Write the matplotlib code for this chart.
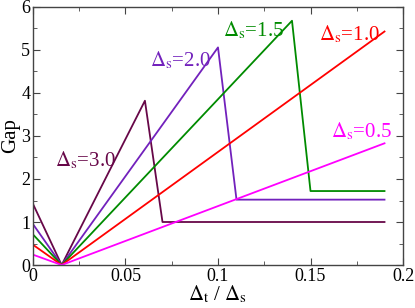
import matplotlib
matplotlib.use("Agg")
import matplotlib.pyplot as plt
from matplotlib.ticker import MultipleLocator

plt.rcParams["font.family"] = ["Liberation Serif", "DejaVu Serif"]
plt.rcParams["mathtext.fontset"] = "stix"

# data (x = Delta_t / Delta_s, y = gap)
x_min = 0.0155
x_end = 0.19

ds_values = ["3.0", "2.0", "1.5", "1.0", "0.5"]
colors = ["#670748", "#7221bc", "#008b00", "#ff0000", "#ff00ff"]

gap_at_zero = [1.42, 0.95, 0.71, 0.47, 0.24]
peak_x = [0.0605, 0.100, 0.140, x_end, x_end]
peak_y = [3.82, 5.06, 5.68, 5.43, 2.83]
drop_x = [0.070, 0.110, 0.150, None, None]
flat_y = [1.00, 1.52, 1.72, None, None]

label_pos = [(0.0119, 2.29), (0.0632, 4.61), (0.1025, 5.33), (0.1546, 5.23), (0.161, 2.98)]

fig = plt.figure(figsize=(4.15, 3.08), dpi=100)
ax = fig.add_axes([0.0795, 0.1396, 0.8916, 0.8377])

for i, ds in enumerate(ds_values):
    xs = [0.0, x_min, peak_x[i]]
    ys = [gap_at_zero[i], 0.0, peak_y[i]]
    if drop_x[i] is not None:
        xs += [drop_x[i], x_end]
        ys += [flat_y[i], flat_y[i]]
    ax.plot(xs, ys, color=colors[i], lw=1.3)
    ax.text(label_pos[i][0], label_pos[i][1], r"$\Delta_{\rm s}$=" + ds,
            color=colors[i], fontsize=15, va="baseline", ha="left")

ax.set_xlim(0, 0.2)
ax.set_ylim(0, 6)
ax.xaxis.set_major_locator(MultipleLocator(0.05))
ax.xaxis.set_minor_locator(MultipleLocator(0.025))
ax.yaxis.set_major_locator(MultipleLocator(1))
ax.yaxis.set_minor_locator(MultipleLocator(0.5))
ax.set_xticks([0, 0.05, 0.1, 0.15, 0.2])
ax.set_xticklabels(["0", "0.05", "0.1", "0.15", "0.2"])
ax.tick_params(which="both", direction="in", top=True, right=True, color="#444444")
ax.tick_params(which="major", length=5, labelsize=13, pad=2)
ax.tick_params(which="minor", length=3)
for s in ax.spines.values():
    s.set_color("#444444")
    s.set_linewidth(1.0)

ax.set_xlabel(r"$\Delta_{\rm t}$ / $\Delta_{\rm s}$", fontsize=15, labelpad=-1)
ax.set_ylabel("Gap", fontsize=15, labelpad=1)

fig.savefig("out.png", dpi=100)
